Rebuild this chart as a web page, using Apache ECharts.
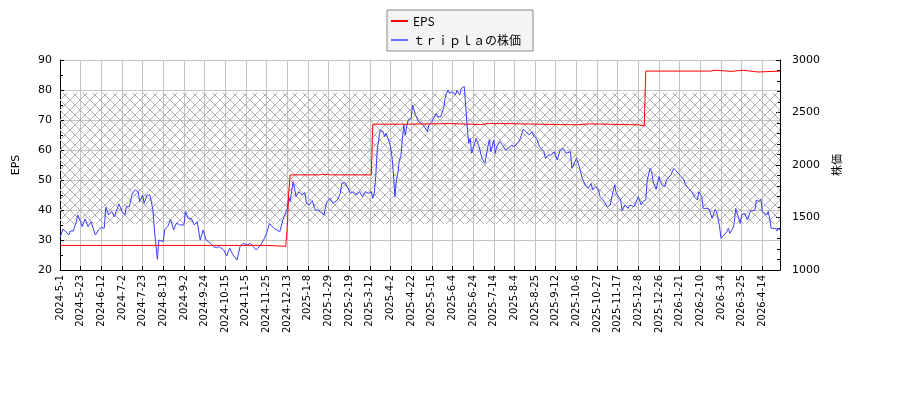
<!DOCTYPE html>
<html>
<head>
<meta charset="utf-8">
<script src="https://cdn.jsdelivr.net/npm/echarts@6/dist/echarts.min.js"></script>
<style>
    html, body { margin: 0; padding: 0; background: #fff; }
    #chart { width: 900px; height: 400px; }
</style>
</head>
<body>
<div id="chart"></div>
<script>
// x = trading-day number counted from 2024-5-1, one label every 14 days
const tickLabels = ['2024-5-1', '2024-5-23', '2024-6-12', '2024-7-2', '2024-7-23', '2024-8-13', '2024-9-2',
    '2024-9-24', '2024-10-15', '2024-11-5', '2024-11-25', '2024-12-13', '2025-1-8', '2025-1-29', '2025-2-19',
    '2025-3-12', '2025-4-2', '2025-4-22', '2025-5-15', '2025-6-4', '2025-6-24', '2025-7-14', '2025-8-4',
    '2025-8-25', '2025-9-12', '2025-10-6', '2025-10-27', '2025-11-17', '2025-12-8', '2025-12-26', '2026-1-21',
    '2026-2-10', '2026-3-4', '2026-3-25', '2026-4-14'];
const lastDay = 488;

const epsDay = [0, 140, 141, 153, 154, 155, 156, 176, 177, 178, 179, 184, 185, 186, 211, 212, 236, 237, 265, 266,
    285, 286, 291, 292, 299, 300, 350, 351, 359, 360, 392, 393, 396, 397, 441, 442, 444, 445, 455, 456, 463, 464,
    473, 474, 488];
const epsVal = [28.2, 28.2, 27.9, 27.9, 34.0, 45.6, 51.7, 51.7, 51.9, 51.9, 51.7, 51.7, 51.9, 51.7, 51.7, 68.6,
    68.6, 68.8, 68.8, 68.5, 68.5, 68.8, 68.8, 68.8, 68.8, 68.4, 68.4, 68.7, 68.7, 68.4, 68.4, 68.0, 68.0, 86.3,
    86.3, 86.6, 86.6, 86.2, 86.2, 86.6, 86.6, 86.0, 86.0, 86.3, 86.3];

const priceDay = [0, 2, 4, 6, 7, 9, 11, 12, 14, 15, 17, 19, 21, 24, 26, 28, 30, 31, 33, 35, 37, 38, 40, 42, 44, 45,
    47, 49, 51, 53, 54, 56, 57, 59, 61, 63, 64, 66, 67, 68, 70, 71, 73, 75, 77, 79, 81, 84, 85, 87, 89, 91, 93, 95,
    97, 99, 102, 104, 106, 108, 111, 113, 115, 117, 120, 122, 124, 127, 129, 131, 133, 136, 138, 140, 142, 145,
    147, 149, 151, 152, 154, 155, 156, 158, 159, 160, 162, 164, 166, 167, 169, 171, 173, 175, 177, 179, 180, 181,
    183, 185, 186, 188, 190, 191, 193, 194, 197, 199, 201, 203, 205, 207, 209, 211, 212, 213, 214, 215, 217, 219,
    220, 221, 223, 224, 225, 226, 227, 228, 229, 230, 231, 232, 233, 234, 235, 236, 238, 239, 241, 243, 245, 247,
    249, 250, 252, 253, 255, 256, 258, 260, 261, 262, 263, 264, 266, 268, 269, 271, 272, 274, 275, 276, 277, 278,
    279, 281, 282, 284, 286, 288, 290, 291, 292, 294, 295, 296, 298, 300, 302, 304, 306, 308, 311, 312, 314, 316,
    318, 320, 321, 323, 325, 328, 329, 331, 333, 335, 337, 339, 341, 343, 346, 347, 350, 352, 354, 356, 358, 360,
    361, 363, 365, 366, 368, 371, 373, 374, 376, 377, 380, 381, 383, 385, 386, 389, 390, 392, 394, 395, 397, 398,
    400, 401, 402, 404, 406, 407, 408, 410, 411, 412, 414, 416, 418, 420, 421, 423, 424, 426, 428, 430, 432, 433,
    435, 436, 438, 440, 442, 444, 445, 447, 448, 450, 451, 452, 453, 454, 456, 457, 458, 460, 461, 462, 464, 465,
    466, 468, 469, 471, 472, 474, 475, 476, 477, 479, 480, 481, 482, 485, 486, 487, 488];
const priceVal = [1305, 1390, 1365, 1333, 1371, 1371, 1460, 1524, 1460, 1413, 1486, 1413, 1460, 1333, 1381, 1406,
    1397, 1597, 1524, 1556, 1508, 1556, 1629, 1556, 1524, 1603, 1603, 1730, 1762, 1746, 1651, 1714, 1635, 1714,
    1714, 1571, 1381, 1102, 1286, 1302, 1270, 1387, 1413, 1483, 1381, 1448, 1429, 1429, 1556, 1492, 1492, 1429,
    1460, 1286, 1381, 1286, 1254, 1222, 1213, 1222, 1190, 1133, 1210, 1150, 1095, 1222, 1254, 1238, 1254, 1222,
    1190, 1238, 1286, 1349, 1444, 1397, 1381, 1365, 1476, 1508, 1587, 1698, 1651, 1841, 1778, 1698, 1746, 1714,
    1737, 1635, 1619, 1660, 1571, 1571, 1546, 1524, 1603, 1651, 1683, 1635, 1651, 1667, 1730, 1825, 1835, 1810,
    1730, 1746, 1714, 1746, 1698, 1746, 1730, 1746, 1683, 1730, 1889, 2143, 2333, 2317, 2270, 2302, 2222, 2175,
    2079, 1921, 1698, 1857, 1921, 2048, 2079, 2238, 2381, 2286, 2365, 2429, 2444, 2571, 2476, 2413, 2397, 2365,
    2317, 2381, 2413, 2413, 2492, 2460, 2460, 2540, 2635, 2683, 2714, 2683, 2698, 2667, 2710, 2667, 2730, 2746,
    2556, 2365, 2206, 2254, 2111, 2206, 2254, 2175, 2063, 2016, 2175, 2238, 2127, 2238, 2111, 2175, 2222, 2190,
    2143, 2159, 2190, 2175, 2222, 2254, 2340, 2317, 2286, 2317, 2275, 2254, 2175, 2127, 2063, 2095, 2095, 2127,
    2048, 2143, 2159, 2111, 2127, 1968, 2063, 1984, 1873, 1810, 1778, 1825, 1762, 1794, 1762, 1698, 1667, 1603,
    1619, 1698, 1810, 1730, 1667, 1565, 1619, 1587, 1619, 1603, 1597, 1698, 1619, 1651, 1667, 1857, 1968, 1937,
    1841, 1768, 1889, 1841, 1810, 1794, 1857, 1873, 1905, 1968, 1937, 1905, 1889, 1857, 1810, 1778, 1746, 1698,
    1667, 1746, 1698, 1587, 1587, 1578, 1492, 1578, 1556, 1420, 1302, 1333, 1317, 1365, 1397, 1349, 1397, 1444,
    1587, 1492, 1444, 1524, 1540, 1556, 1476, 1562, 1571, 1568, 1667, 1651, 1676, 1556, 1540, 1524, 1556, 1492,
    1397, 1397, 1371, 1397, 1381];

// hatched band, in EPS units
const bandEps = [79.1, 35.3];

const epsData = epsDay.map((d, i) => [d, epsVal[i]]);
const priceData = priceDay.map((d, i) => [d, priceVal[i]]);

// cross-hatch tile
const tile = document.createElement('canvas');
tile.width = 10;
tile.height = 10;
const tc = tile.getContext('2d');
tc.strokeStyle = '#b0b0b0';
tc.lineWidth = 1;
tc.beginPath();
tc.moveTo(0, 0); tc.lineTo(10, 10);
tc.moveTo(10, 0); tc.lineTo(0, 10);
tc.stroke();

const chart = echarts.init(document.getElementById('chart'));
const gridColor = '#c4c4c4';

const option = {
    backgroundColor: '#fff',
    animation: false,
    textStyle: { fontFamily: 'DejaVu Sans' },
    legend: {
        orient: 'vertical',
        left: 387,
        top: 10,
        padding: [5, 12, 5, 4],
        itemGap: 7,
        itemWidth: 17,
        itemHeight: 2,
        backgroundColor: '#f4f4f4',
        borderColor: '#888',
        borderWidth: 1,
        borderRadius: 0,
        textStyle: { fontFamily: 'Noto Sans CJK JP', fontSize: 12, color: '#000' },
        data: [
            { name: 'EPS', icon: 'rect', itemStyle: { color: '#ff0000' } },
            { name: 'ｔｒｉｐｌａの株価', icon: 'rect', itemStyle: { color: '#6a6aff' } }
        ]
    },
    grid: { left: 60, right: 120, top: 60, bottom: 130 },
    xAxis: {
        type: 'value',
        min: 0,
        max: lastDay,
        interval: 14,
        axisLine: { lineStyle: { color: '#000' } },
        axisTick: { inside: true, length: 4, lineStyle: { color: '#000' } },
        axisLabel: {
            rotate: 90,
            fontSize: 10,
            color: '#000',
            margin: 5,
            showMaxLabel: false,
            formatter: function (v) {
                const k = v / 14;
                return Number.isInteger(k) && tickLabels[k] ? tickLabels[k] : '';
            }
        },
        splitLine: { show: true, lineStyle: { color: gridColor } }
    },
    yAxis: [{
        type: 'value',
        name: 'EPS',
        nameLocation: 'middle',
        nameRotate: 90,
        nameGap: 38,
        nameTextStyle: { fontSize: 11, color: '#000' },
        min: 20,
        max: 90,
        interval: 10,
        axisLine: { show: true, lineStyle: { color: '#000' } },
        axisTick: { show: true, inside: true, length: 4, lineStyle: { color: '#000' } },
        minorTick: { show: true, splitNumber: 2, length: 3, lineStyle: { color: '#000' } },
        axisLabel: { fontSize: 11, color: '#000', margin: 8 },
        splitLine: { show: true, lineStyle: { color: gridColor } }
    }, {
        type: 'value',
        name: '株価',
        nameLocation: 'middle',
        nameRotate: 90,
        nameGap: 50,
        nameTextStyle: { fontSize: 11, color: '#000', fontFamily: 'Noto Sans CJK JP' },
        min: 1000,
        max: 3000,
        interval: 500,
        position: 'right',
        axisLine: { show: true, lineStyle: { color: '#000' } },
        axisTick: { show: true, inside: true, length: 4, lineStyle: { color: '#000' } },
        minorTick: { show: true, splitNumber: 5, length: 3, lineStyle: { color: '#000' } },
        axisLabel: { fontSize: 11, color: '#000', margin: 12, formatter: v => String(v) },
        splitLine: { show: false }
    }],
    series: [{
        name: 'EPS',
        type: 'line',
        yAxisIndex: 0,
        data: epsData,
        showSymbol: false,
        color: '#ff0000',
        lineStyle: { width: 1, color: '#ff0000' },
        z: 3,
        markArea: {
            silent: true,
            itemStyle: { color: { image: tile, repeat: 'repeat' } },
            data: [[{ yAxis: bandEps[0] }, { yAxis: bandEps[1] }]]
        }
    }, {
        name: 'ｔｒｉｐｌａの株価',
        type: 'line',
        yAxisIndex: 1,
        data: priceData,
        showSymbol: false,
        color: '#3c3cff',
        lineStyle: { width: 1, color: '#3c3cff' },
        z: 2
    }]
};

chart.setOption(option);

window.onresize = function () {
    chart.resize();
};
</script>
</body>
</html>
